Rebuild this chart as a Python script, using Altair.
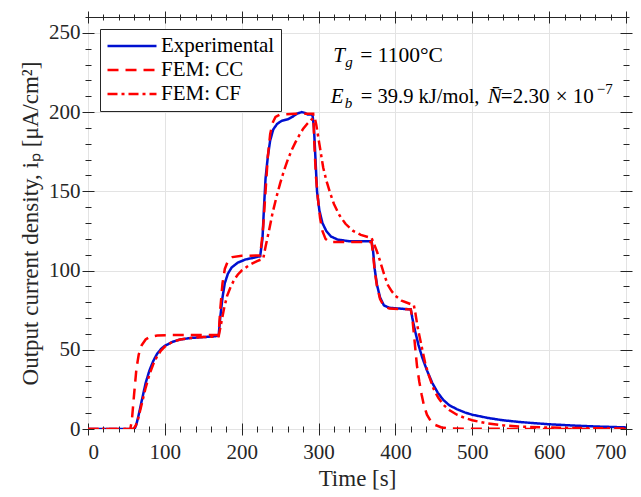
import altair as alt
import pandas as pd

# ---------------- data ----------------
series_names = ["Experimental", "FEM: CC", "FEM: CF"]

exp_t = [0, 58, 61, 63, 66, 70, 75, 80, 85, 90, 95, 100, 110, 120, 135, 150, 165, 170,
         172, 175, 178, 182, 187, 195, 205, 215, 224, 227, 229, 231, 234, 237, 241, 246,
         252, 260, 266, 272, 278, 282, 286, 292, 294, 296, 298, 301, 305, 310, 316, 325,
         340, 355, 369, 371, 373, 376, 380, 385, 392, 405, 420, 422, 425, 430, 435, 441,
         448, 455, 462, 470, 480, 490, 500, 520, 540, 560, 580, 600, 630, 660, 700]
exp_y = [0, 0, 0.5, 3, 9, 18, 29, 37, 43, 47.5, 50.5, 52.5, 55, 56.5, 57.5, 58, 58.5, 59,
         70, 83, 92, 98, 102, 105, 107, 108, 109, 120, 140, 158, 172, 182, 189, 192.5,
         194.5, 195.5, 197, 199, 200, 199.5, 198.5, 198.5, 190, 170, 150, 138, 130, 125, 121.5, 119.5,
         118.5, 118.5, 118.5, 112, 101, 91, 83, 78, 76.5, 76, 75.5, 70, 63, 53, 45, 37,
         29, 23, 18.5, 15, 12.5, 10.5, 9, 7, 5.5, 4.5, 3.7, 3, 2.2, 1.6, 1]

cc_t = [0, 55, 57, 60, 63, 66, 70, 75, 80, 90, 110, 170, 172, 175, 178, 182, 188, 200,
        224, 226, 228, 231, 234, 237, 240, 244, 250, 270, 293, 294.5, 296.5, 299, 302, 305,
        309, 314, 325, 369, 371, 373, 376, 380, 385, 392, 420, 422, 424, 426, 428, 431,
        434, 437, 441, 446, 452, 460, 470, 500, 700]
cc_y = [0, 0, 5, 22, 38, 47, 53, 56.5, 58, 59, 59.3, 59.3, 75, 92, 101, 106, 108.5, 109.3,
        109.5, 118, 128, 150, 172, 186, 193, 197, 198.5, 199, 199, 180, 160, 146, 133, 125,
        120, 118, 118, 118, 110, 100, 90, 82, 77.5, 76, 75.5, 70, 60, 50, 40, 30,
        22, 15, 9, 5, 2.5, 1, 0.3, 0.1, 0]

cf_t = [0, 59, 62, 65, 70, 75, 80, 85, 90, 95, 100, 110, 120, 135, 150, 170, 173, 177,
        181, 185, 190, 195, 200, 210, 220, 228, 231, 235, 240, 245, 250, 255, 260, 265,
        270, 275, 280, 285, 290, 295, 297, 300, 303, 306, 310, 315, 320, 327, 335, 345,
        355, 369, 372, 376, 380, 385, 390, 395, 400, 408, 416, 424, 426, 429, 432, 435,
        439, 444, 450, 456, 463, 470, 480, 490, 500, 520, 540, 560, 600, 650, 700]
cf_y = [0, 0, 2, 6, 16, 26, 34.5, 41, 46, 49.5, 52, 55, 56.5, 57.5, 58, 58.5, 66, 76,
        84, 89, 94, 97.5, 100, 103.5, 106, 107.5, 115, 124, 136, 146, 155, 163, 170, 176,
        181, 185.5, 189.5, 192.5, 195, 196.5, 192, 183, 174, 165, 157, 149, 142, 135, 129.5, 125,
        122.5, 120.5, 117, 112, 106, 98, 91, 87, 84, 81, 79.5, 78, 73, 64, 57, 50,
        41, 33, 25, 19.5, 15, 12, 9, 7, 5.5, 3.5, 2.3, 1.6, 0.9, 0.5, 0.3]

x_major = [0, 100, 200, 300, 400, 500, 600, 700]
x_minor = list(range(0, 701, 20))
y_major = [0, 50, 100, 150, 200, 250]
y_minor = list(range(0, 261, 10))

rows = []
for name, ts, vs in [("Experimental", exp_t, exp_y), ("FEM: CC", cc_t, cc_y), ("FEM: CF", cf_t, cf_y)]:
    for i, (t, v) in enumerate(zip(ts, vs)):
        rows.append({"series": name, "t": t, "ip": v, "order": i})
df = pd.DataFrame(rows)

# ---------------- style ----------------
FONT = "Liberation Serif"
TXT = "#262626"
colors = ["#0010d0", "#ff0000", "#ff0000"]
dashes = [[1, 0], [11, 7], [10, 4, 3, 4]]

xs = alt.Scale(domain=[0, 700], nice=False, zero=False)
ys = alt.Scale(domain=[0, 260], nice=False, zero=False)

leg = alt.Legend(orient="none", legendX=12, legendY=12, title=None, symbolType="stroke",
                 symbolSize=2400, symbolStrokeWidth=2.5, clipHeight=22, rowPadding=2,
                 labelFont=FONT, labelFontSize=21, labelColor="black", labelOffset=3,
                 strokeColor=TXT, fillColor="white", padding=6, cornerRadius=0)

lines = alt.Chart(df).mark_line(strokeWidth=2.5, clip=True).encode(
    x=alt.X("t:Q", scale=xs, axis=alt.Axis(orient="bottom", values=x_major, title="Time [s]",
                                           grid=True, ticks=False, domain=False, labelPadding=12,
                                           titlePadding=5)),
    y=alt.Y("ip:Q", scale=ys, axis=alt.Axis(orient="left", values=y_major,
                                            title="Output current density, iₚ [μA/cm²]",
                                            grid=True, ticks=False, domain=False, labelPadding=8,
                                            titlePadding=6)),
    color=alt.Color("series:N", scale=alt.Scale(domain=series_names, range=colors), legend=leg),
    strokeDash=alt.StrokeDash("series:N", scale=alt.Scale(domain=series_names, range=dashes), legend=leg),
    order="order:Q",
)


def tick_layer(ox, oy, xv, yv, size):
    return alt.Chart(df).mark_point(opacity=0).encode(
        x=alt.X("t:Q", scale=xs, axis=alt.Axis(orient=ox, values=xv, offset=-size / 2, tickSize=size,
                                               labels=False, domain=False, grid=False, title=None,
                                               tickColor=TXT)),
        y=alt.Y("ip:Q", scale=ys, axis=alt.Axis(orient=oy, values=yv, offset=-size / 2, tickSize=size,
                                                labels=False, domain=False, grid=False, title=None,
                                                tickColor=TXT)),
    )


ticks = [
    tick_layer("bottom", "left", x_major, y_major, 12),
    tick_layer("bottom", "left", x_minor, y_minor, 6),
    tick_layer("top", "right", x_major, y_major, 12),
    tick_layer("top", "right", x_minor, y_minor, 6),
]

# annotation anchors (data units)
anchor1 = pd.DataFrame({"t": [319], "ip": [231.6]})
anchor2 = pd.DataFrame({"t": [316], "ip": [205.7]})


def seg(anchor, txt, dx=0, dy=0, size=21, italic=False):
    kw = dict(align="left", baseline="alphabetic", font=FONT, fontSize=size, dx=dx, dy=dy, color="black")
    if italic:
        kw["fontStyle"] = "italic"
    return alt.Chart(anchor).mark_text(**kw).encode(
        x=alt.X("t:Q", scale=xs, axis=None),
        y=alt.Y("ip:Q", scale=ys, axis=None),
        text=alt.value(txt),
    )


texts = [
    seg(anchor1, "T", 0, 0, 21, True),
    seg(anchor1, "g", 12, 5, 15, True),
    seg(anchor1, "= 1100°C", 27, 0, 21.5),
    seg(anchor2, "E", 0, 0, 21, True),
    seg(anchor2, "b", 14, 5, 15, True),
    seg(anchor2, "= 39.9 kJ/mol,", 30, 0, 20.5),
    seg(anchor2, "N̄", 157, 0, 21, True),
    seg(anchor2, "=", 170, 0, 21),
    seg(anchor2, "2.30", 182, 0, 21),
    seg(anchor2, "×", 225, 0, 21),
    seg(anchor2, "10", 242, 0, 21),
    seg(anchor2, "−7", 266, -9, 15),
]

chart = alt.layer(lines, *ticks, *texts).resolve_axis(x="independent", y="independent").properties(
    width=538, height=412, padding={"left": 11, "top": 2, "right": 0, "bottom": 5}
).configure(font=FONT).configure_view(stroke=TXT, strokeWidth=1).configure_axis(
    labelFont=FONT, labelFontSize=21, labelColor=TXT, titleFont=FONT, titleFontSize=23,
    titleFontWeight="normal", titleColor=TXT, gridColor="#e3e3e3", gridWidth=1
).configure_legend(labelFont=FONT, labelFontSize=21).configure_text(font=FONT)

chart.save("out.html", embed_options={"renderer": "svg", "actions": False})
